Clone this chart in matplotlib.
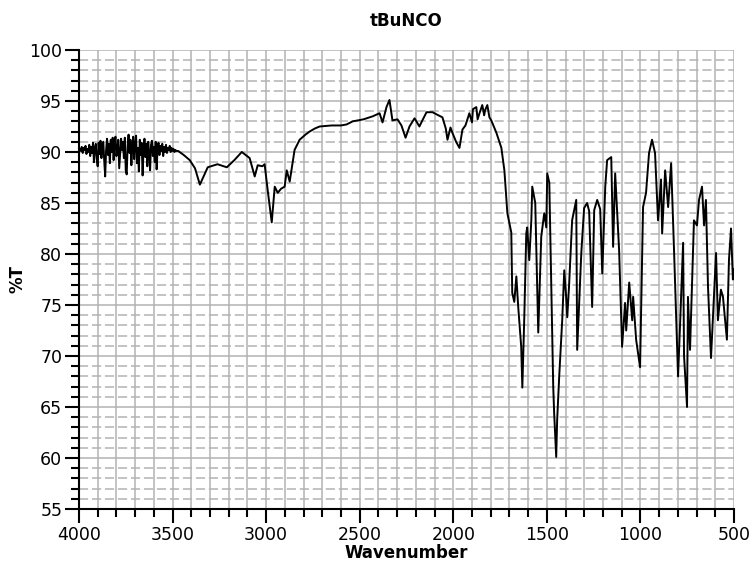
import matplotlib
matplotlib.use("Agg")
import matplotlib.pyplot as plt
from matplotlib.ticker import MultipleLocator

# IR spectrum of tBuNCO

# noisy start of the trace (4000 -> 3480 cm-1), 5 cm-1 steps
noisy_wn = list(range(3995, 3475, -5))
noisy_t = [90.3, 90.1, 90.5, 89.9, 90.4, 90.2, 90.6, 89.8, 90.3, 90.0,
           90.7, 89.6, 90.5, 89.9, 90.9, 89.0, 90.4, 90.8, 89.3, 88.6,
           90.9, 89.8, 91.1, 89.4, 90.6, 91.0, 89.1, 87.6, 90.2, 91.3,
           89.7, 90.8, 88.9, 91.2, 90.0, 91.4, 89.2, 90.9, 91.5, 89.6,
           90.3, 91.2, 88.4, 89.9, 91.3, 90.2, 91.0, 89.4, 91.4, 88.2,
           87.8, 90.6, 91.7, 89.9, 91.2, 88.7, 90.5, 91.5, 89.3, 90.8,
           91.6, 88.9, 90.4, 88.1, 91.2, 89.7, 90.9, 87.7, 90.3, 91.3,
           89.5, 90.8, 88.6, 91.0, 89.9, 88.2, 90.7, 91.1, 89.6, 90.5,
           89.0, 91.0, 88.3, 90.4, 90.9, 89.7, 90.6, 90.1, 90.8, 89.6,
           90.5, 90.0, 90.7, 89.9, 90.4, 90.2, 90.6, 90.0, 90.4, 90.1,
           90.3, 90.0, 90.2, 90.1]

# rest of the trace (3470 -> 500 cm-1)
main_wn = [3470, 3440, 3408, 3380, 3354, 3312, 3260, 3210, 3170, 3130, 3088,
           3061, 3045, 3020, 3008, 2992, 2970, 2954, 2938, 2920, 2901, 2890,
           2874, 2848, 2821, 2790, 2768, 2740, 2714, 2650, 2600, 2570, 2538,
           2480, 2430, 2394, 2378, 2357, 2341, 2325, 2298, 2277, 2255, 2234,
           2207, 2181, 2165, 2143, 2111, 2080, 2058, 2040, 2031, 2015, 2005,
           1985, 1967, 1951, 1935, 1914, 1900, 1895, 1877, 1870, 1860, 1845,
           1835, 1830, 1818, 1807, 1797, 1770, 1743, 1727, 1711, 1700, 1690,
           1685, 1674, 1663, 1653, 1637, 1631, 1621, 1610, 1605, 1594, 1583,
           1578, 1562, 1546, 1530, 1514, 1503, 1498, 1487, 1477, 1466, 1461,
           1450, 1445, 1434, 1418, 1407, 1397, 1391, 1381, 1365, 1343, 1338,
           1316, 1301, 1285, 1274, 1258, 1247, 1231, 1215, 1204, 1188, 1178,
           1156, 1146, 1135, 1114, 1098, 1082, 1076, 1060, 1044, 1039, 1023,
           1002, 986, 970, 954, 938, 922, 906, 890, 884, 868, 852, 836, 820,
           799, 788, 772, 767, 751, 746, 735, 714, 698, 687, 671, 660, 650,
           639, 623, 596, 586, 570, 559, 538, 527, 516, 506, 503]
main_t = [90.1, 89.7, 89.2, 88.4, 86.8, 88.5, 88.8, 88.5, 89.2, 90.0, 89.4,
          87.6, 88.7, 88.6, 88.8, 86.3, 83.1, 86.6, 86.0, 86.4, 86.6, 88.2,
          87.1, 90.2, 91.2, 91.7, 92.0, 92.3, 92.5, 92.6, 92.6, 92.7, 93.0,
          93.2, 93.5, 93.8, 92.9, 94.4, 95.1, 93.1, 93.2, 92.6, 91.4, 92.5,
          93.3, 92.5, 93.1, 93.9, 93.9, 93.6, 93.4, 92.3, 91.2, 92.4, 91.9,
          91.0, 90.4, 92.2, 92.6, 93.8, 92.9, 94.2, 94.4, 93.2, 93.8, 94.6,
          93.6, 94.1, 94.6, 93.4, 93.1, 91.9, 90.4, 88.2, 84.0, 83.0, 82.1,
          76.2, 75.3, 77.8, 74.8, 70.9, 66.9, 73.5, 82.0, 82.6, 79.4, 83.3,
          86.6, 85.0, 72.3, 81.7, 84.0, 82.6, 87.9, 87.0, 77.5, 67.0, 64.4,
          60.1, 63.7, 68.0, 73.5, 78.4, 75.8, 73.8, 77.0, 83.3, 85.3, 70.6,
          80.1, 84.5, 85.0, 84.2, 74.8, 84.3, 85.3, 84.4, 78.1, 86.6, 89.2,
          89.5, 80.7, 87.9, 80.4, 70.9, 75.2, 72.5, 77.2, 73.5, 75.8, 71.6,
          68.9, 84.6, 86.0, 89.9, 91.2, 89.9, 83.3, 87.3, 82.0, 88.2, 84.6,
          88.9, 80.1, 68.0, 73.2, 81.1, 70.0, 65.0, 75.8, 70.6, 83.3, 82.8,
          85.3, 86.6, 82.8, 85.3, 76.8, 69.8, 80.1, 73.5, 76.5, 75.8, 71.6,
          79.4, 82.5, 77.5, 78.5]

wavenumber = noisy_wn + main_wn
transmittance = noisy_t + main_t

GRID = "#b3b3b3"

plt.rcParams.update({
    "font.family": "DejaVu Sans",
    "font.size": 12.5,
})

fig = plt.figure(figsize=(7.55, 5.68), dpi=100)
ax = fig.add_axes([0.1046, 0.1039, 0.8676, 0.8081])

ax.plot(wavenumber, transmittance, color="black", linewidth=1.4, zorder=3)

ax.set_xlim(4000, 500)
ax.set_ylim(55, 100)

ax.xaxis.set_major_locator(MultipleLocator(500))
ax.xaxis.set_minor_locator(MultipleLocator(100))
ax.yaxis.set_major_locator(MultipleLocator(5))
ax.yaxis.set_minor_locator(MultipleLocator(1))

# grid: solid verticals every 100, dashed horizontals every 1, solid every 5
ax.grid(which="both", axis="x", color=GRID, linewidth=1.1)
ax.grid(which="major", axis="y", color=GRID, linewidth=1.1)
ax.grid(which="minor", axis="y", color=GRID, linewidth=1.1,
        linestyle=(0, (6, 2.5)))
ax.set_axisbelow(True)

for side in ("top", "right"):
    ax.spines[side].set_visible(False)
for side in ("left", "bottom"):
    ax.spines[side].set_linewidth(1.5)

ax.tick_params(which="major", length=10, width=1.5, direction="out")
ax.tick_params(which="minor", length=6, width=1.5, direction="out")
ax.tick_params(axis="both", labelsize=12.5, pad=2)

ax.set_title("tBuNCO", fontsize=12, fontweight="bold", pad=17)
ax.set_xlabel("Wavenumber", fontsize=12, fontweight="bold", labelpad=0)
ax.set_ylabel("%T", fontsize=12, fontweight="bold", labelpad=2)

fig.savefig("out.png", dpi=100)
